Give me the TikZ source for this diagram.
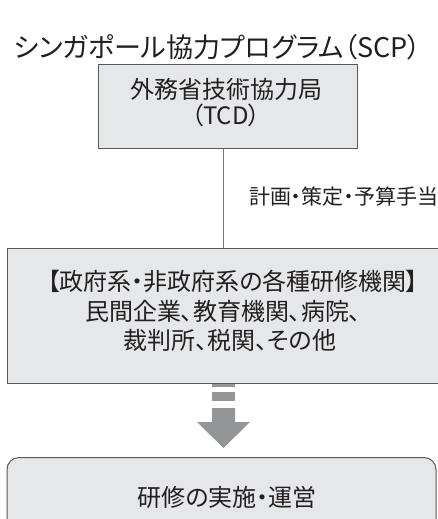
\documentclass[tikz,border=0pt]{standalone}
\usepackage{fontspec}
\setmainfont{Noto Sans CJK JP}[RawFeature=+palt]
\usetikzlibrary{calc}
\definecolor{boxfill}{HTML}{E6E7E8}
\definecolor{boxline}{HTML}{58595B}
\definecolor{arrowgray}{HTML}{939598}
\definecolor{linegray}{HTML}{77787B}
\definecolor{ink}{HTML}{231F20}
\begin{document}
\begin{tikzpicture}[x=1pt,y=-1pt,
  box/.style={draw=boxline, fill=boxfill, line width=1pt, inner sep=0pt},
  txt/.style={inner sep=0pt, align=center, text=ink}]
\useasboundingbox (0,0) rectangle (438,519);
\clip (0,0) rectangle (438,519);
\node[txt, font=\fontsize{27}{30}\selectfont] (title) at (217.5,47) {シンガポール協力プログラム（SCP）};
\node[box, minimum width=259pt, minimum height=83pt] (tcd) at (228,106.5) {};
\node[txt, font=\fontsize{24}{25.5}\selectfont] (tcdt) at (226,102.5) {外務省技術協力局\\（TCD）};
\node[box, minimum width=432pt, minimum height=135pt] (big) at (223,315.5) {};
\node[txt, font=\fontsize{24}{29.5}\selectfont] (bigt) at (223,311) {\hspace*{20pt}【政府系・非政府系の各種研修機関】\\民間企業、教育機関、病院、\\\hspace*{14pt}裁判所、税関、その他};
\draw[linegray, line width=1pt] (tcd.south -| big.north) -- (big.north);
\node[txt, anchor=west, font=\fontsize{21}{22}\selectfont] (lbl) at (249,197) {計画・策定・予算手当};
\node[box, rounded corners=12pt, minimum width=429pt, minimum height=79pt] (run) at (221.5,497) {};
\node[txt, font=\fontsize{24}{26}\selectfont] (runt) at (227,497) {研修の実施・運営};
\fill[arrowgray] (212,383.5) rectangle (235,386.5);
\fill[arrowgray] (212,392) rectangle (235,401);
\fill[arrowgray] (212,408) -- (235,408) -- (235,422) -- (250,422) -- (223.5,448) -- (197,422) -- (212,422) -- cycle;
\end{tikzpicture}
\end{document}
